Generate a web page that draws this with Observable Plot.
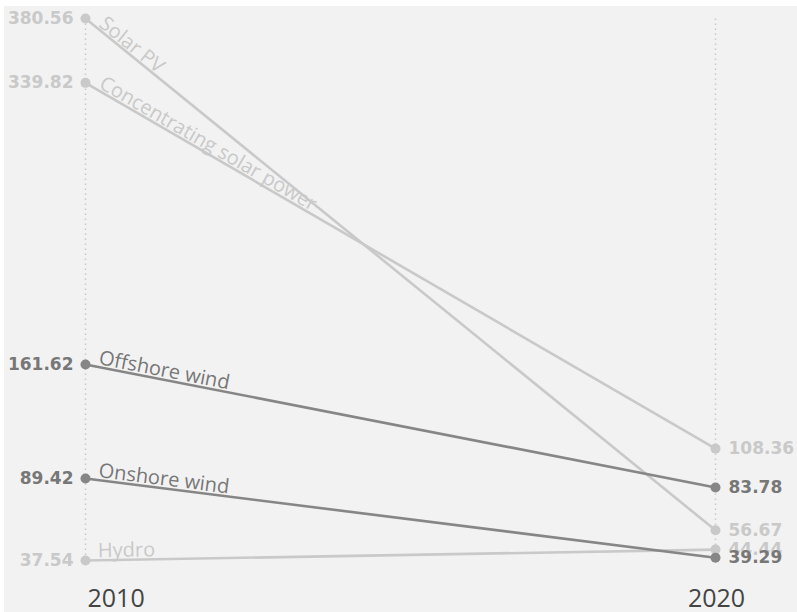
<!DOCTYPE html>
<html>
<head>
<meta charset="utf-8">
<script src="https://cdn.jsdelivr.net/npm/d3@7"></script>
<script src="https://cdn.jsdelivr.net/npm/@observablehq/plot@0.6"></script>
<style>
  html, body { margin: 0; padding: 0; background: #ffffff; }
  #chart { position: absolute; left: 4px; top: 6px; width: 793px; height: 606px; background: #f2f2f2; overflow: hidden; }
</style>
</head>
<body>
<div id="chart"></div>
<script>
// ---- data ----
const series = ["Solar PV", "Concentrating solar power", "Offshore wind", "Onshore wind", "Hydro"];
const years = [2010, 2020];
const values2010 = [380.56, 339.82, 161.62, 89.42, 37.54];
const values2020 = [56.67, 108.36, 83.78, 39.29, 44.44];
const emphasized = [false, false, true, true, false];

// ---- styling ----
const LIGHT = "#c9c9c9";
const DARK = "#868686";
const DARK_TEXT = "#777777";

const W = 793, H = 606;
const xRange = [81, 711];
const yRange = [554, 12];

const rows = series.map((s, i) => ({
  name: s, v1: values2010[i], v2: values2020[i], em: emphasized[i]
}));
// draw light series first, emphasized on top
const ordered = [...rows.filter(d => !d.em), ...rows.filter(d => d.em)];

const allVals = values2010.concat(values2020);
const yDomain = d3.extent(allVals);
const xs = d3.scaleLinear().domain(d3.extent(years)).range(xRange);
const ys = d3.scaleLinear().domain(yDomain).range(yRange);

// label anchor along the line, slightly after the 2010 point
const t = 0.02;
const labels = ordered.map(d => {
  const ang = Math.atan2(ys(d.v2) - ys(d.v1), xs(years[1]) - xs(years[0])) * 180 / Math.PI;
  return {
    name: d.name, em: d.em,
    x: years[0] + t * (years[1] - years[0]),
    y: d.v1 + t * (d.v2 - d.v1),
    angle: ang
  };
});

const pts = ordered.flatMap(d => [
  {year: years[0], v: d.v1, em: d.em},
  {year: years[1], v: d.v2, em: d.em}
]);

const col = d => d.em ? DARK : LIGHT;
const tcol = d => d.em ? DARK_TEXT : LIGHT;

const chart = Plot.plot({
  width: W,
  height: H,
  margin: 0,
  style: { background: "transparent", fontFamily: "'Open Sans', sans-serif" },
  x: { domain: d3.extent(years), range: xRange, axis: null },
  y: { domain: yDomain, range: yRange, axis: null },
  marks: [
    Plot.ruleX(years, {x: d => d, y1: yDomain[0], y2: yDomain[1], stroke: LIGHT, strokeWidth: 1.5, strokeDasharray: "1.5,3.5"}),
    Plot.link(ordered, {x1: () => years[0], x2: () => years[1], y1: "v1", y2: "v2", stroke: col, strokeWidth: 2.6}),
    Plot.dot(pts, {x: "year", y: "v", r: 5, fill: col, stroke: "none"}),
    Plot.text(labels, {x: "x", y: "y", text: "name", rotate: "angle", textAnchor: "start", lineAnchor: "bottom", dy: -3,
      fill: tcol, fontSize: 20, fontFamily: "'Open Sans', sans-serif"}),
    Plot.text(pts.filter(d => d.year === years[0]), {x: "year", y: "v", text: d => d.v.toFixed(2), textAnchor: "end", dx: -12,
      fill: tcol, fontSize: 17, fontWeight: "bold", fontFamily: "'DejaVu Sans', sans-serif"}),
    Plot.text(pts.filter(d => d.year === years[1]), {x: "year", y: "v", text: d => d.v.toFixed(2), textAnchor: "start", dx: 13,
      fill: tcol, fontSize: 17, fontWeight: "bold", fontFamily: "'DejaVu Sans', sans-serif"}),
    Plot.text([years[0]], {x: d => d, text: d => String(d), frameAnchor: "bottom", textAnchor: "start", lineAnchor: "middle", dx: 2, dy: -14,
      fill: "#444444", fontSize: 25, fontFamily: "'Open Sans', sans-serif"}),
    Plot.text([years[1]], {x: d => d, text: d => String(d), frameAnchor: "bottom", textAnchor: "middle", lineAnchor: "middle", dx: 1, dy: -14,
      fill: "#444444", fontSize: 25, fontFamily: "'Open Sans', sans-serif"})
  ]
});
document.getElementById("chart").appendChild(chart);
</script>
</body>
</html>
